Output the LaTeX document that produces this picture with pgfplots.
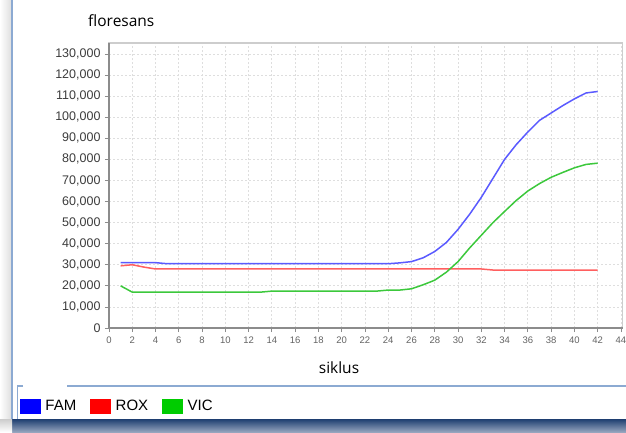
\documentclass[border=0pt]{standalone}
\usepackage{pgfplots}
\pgfplotsset{compat=1.18}
\usepackage{fontspec}
\setmainfont{Liberation Sans}
\newfontfamily\segoe{Open Sans}
\definecolor{famline}{RGB}{90,90,255}
\definecolor{roxline}{RGB}{255,95,95}
\definecolor{vicline}{RGB}{60,200,60}
\definecolor{framegray}{RGB}{205,205,205}
\definecolor{axgray}{RGB}{140,140,140}
\definecolor{gridgray}{RGB}{222,222,222}
\definecolor{ticktext}{RGB}{60,60,60}
\definecolor{borderblue}{RGB}{140,170,210}
\definecolor{bandtop}{RGB}{30,62,112}
\definecolor{bandbot}{RGB}{150,165,190}
\begin{document}
\begin{tikzpicture}
% canvas (pixel coords: y up, 0..432)
\path[use as bounding box] (0pt,0pt) rectangle (626pt,432pt);
% window decorations
\shade[left color=white, right color=gray!25] (0pt,13pt) rectangle (11pt,432pt);
\draw[borderblue, line width=2pt] (12pt,13pt) -- (12pt,432pt);
\shade[top color=bandtop, bottom color=bandbot] (12pt,0pt) rectangle (626pt,13pt);
\shade[top color=gray!40, bottom color=white] (0pt,0pt) rectangle (12pt,13pt);
% legend fieldset
\draw[borderblue, line width=1.6pt] (23pt,46.3pt) -- (17.5pt,46.3pt) -- (17.5pt,13pt);
\draw[borderblue, line width=1.6pt] (67pt,46.3pt) -- (626pt,46.3pt);
\begin{axis}[
  at={(109pt,104pt)}, anchor=south west,
  scale only axis, width=513.7pt, height=285pt,
  xmin=0, xmax=44.15, ymin=0, ymax=135200,
  xtick={0,2,...,44}, ytick={0,10000,...,130000},
  grid=major,
  major grid style={gridgray, dash pattern=on 2pt off 2pt, line width=0.8pt},
  axis line style={framegray, line width=1.2pt},
  tick style={axgray, line width=0.8pt},
  tick align=outside, major tick length=4pt,
  xtick pos=bottom, ytick pos=left,
  scaled y ticks=false,
  /pgf/number format/.cd, fixed, 1000 sep={,}, assume math mode=true,
  /pgfplots/.cd,
  yticklabel style={font=\fontsize{12.5}{14}\selectfont, text=ticktext, xshift=-1pt},
  xticklabel style={font=\fontsize{9.5}{11}\selectfont, text=ticktext!80, yshift=-1pt},
  clip=false,
  legend style={at={(-0.1735,-0.274)}, anchor=west, draw=none, fill=none,
    legend columns=3, font=\fontsize{15}{17}\selectfont,
    /tikz/every even column/.append style={column sep=12pt},
    /tikz/every odd column/.append style={column sep=3pt},
    inner sep=0pt},
  legend image code/.code={\fill[#1] (0pt,-7pt) rectangle (20pt,7pt);},
]
\addplot[famline, line width=1.5pt, forget plot] coordinates {
(1,31000)(2,31000)(3,31000)(4,31000)(5,30500)(6,30500)(7,30500)(8,30500)(9,30500)(10,30500)
(11,30500)(12,30500)(13,30500)(14,30500)(15,30500)(16,30500)(17,30500)(18,30500)(19,30500)(20,30500)
(21,30500)(22,30500)(23,30500)(24,30500)(25,30900)(26,31500)(27,33300)(28,36300)(29,40600)(30,46800)
(31,54000)(32,62000)(33,71000)(34,80000)(35,87000)(36,93000)(37,98500)(38,102000)(39,105500)(40,108700)
(41,111500)(42,112200)};
\addplot[roxline, line width=1.5pt, forget plot] coordinates {
(1,29500)(2,30000)(3,28900)(4,28000)(5,28000)(6,28000)(7,28000)(8,28000)(9,28000)(10,28000)
(11,28000)(12,28000)(13,28000)(14,28000)(15,28000)(16,28000)(17,28000)(18,28000)(19,28000)(20,28000)
(21,28000)(22,28000)(23,28000)(24,28000)(25,28000)(26,28000)(27,28000)(28,28000)(29,28000)(30,28000)
(31,28000)(32,28000)(33,27500)(34,27500)(35,27500)(36,27500)(37,27500)(38,27500)(39,27500)(40,27500)
(41,27500)(42,27500)};
\addplot[vicline, line width=1.5pt, forget plot] coordinates {
(1,20000)(2,17000)(3,17000)(4,17000)(5,17000)(6,17000)(7,17000)(8,17000)(9,17000)(10,17000)
(11,17000)(12,17000)(13,17000)(14,17500)(15,17500)(16,17500)(17,17500)(18,17500)(19,17500)(20,17500)
(21,17500)(22,17500)(23,17500)(24,18000)(25,18000)(26,18600)(27,20500)(28,22700)(29,26500)(30,31500)
(31,38000)(32,44000)(33,50000)(34,55300)(35,60500)(36,65000)(37,68500)(38,71500)(39,73800)(40,76000)
(41,77600)(42,78200)};
\draw[axgray, line width=1.2pt] (rel axis cs:0,1) -- (rel axis cs:0,0) -- (rel axis cs:1,0);
\addlegendimage{blue}
\addlegendentry{FAM}
\addlegendimage{red}
\addlegendentry{ROX}
\addlegendimage{green!80!black}
\addlegendentry{VIC}
\end{axis}
\node[font=\segoe\fontsize{15.5}{18}\selectfont, anchor=base west, inner sep=0pt] at (88pt,405pt) {floresans};
\node[font=\segoe\fontsize{15.5}{18}\selectfont, anchor=base, inner sep=0pt] at (339pt,59pt) {siklus};
\end{tikzpicture}
\end{document}
